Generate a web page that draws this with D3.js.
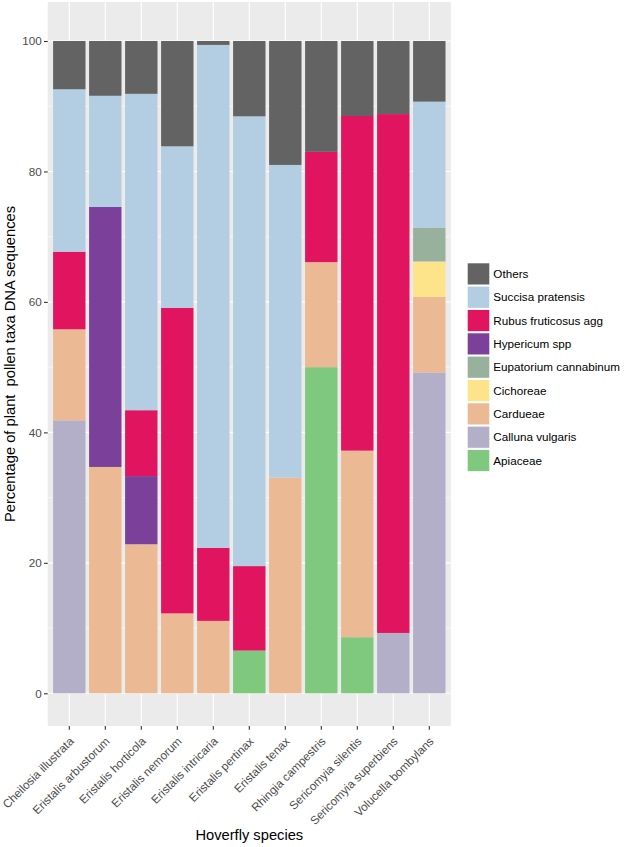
<!DOCTYPE html>
<html>
<head>
<meta charset="utf-8">
<script src="https://cdn.jsdelivr.net/npm/d3@7"></script>
<style>
  body { margin: 0; background: #fff; }
  svg { display: block; font-family: "Liberation Sans", Arial, sans-serif; }
</style>
</head>
<body>
<svg id="chart" width="625" height="847"></svg>
<script>
// ---------- data ----------
const species = ["Cheilosia illustrata", "Eristalis arbustorum", "Eristalis horticola", "Eristalis nemorum",
  "Eristalis intricaria", "Eristalis pertinax", "Eristalis tenax", "Rhingia campestris",
  "Sericomyia silentis", "Sericomyia superbiens", "Volucella bombylans"];
// stack order bottom -> top
const categories = ["Apiaceae", "Calluna vulgaris", "Cardueae", "Cichoreae", "Eupatorium cannabinum",
  "Hypericum spp", "Rubus fruticosus agg", "Succisa pratensis", "Others"];
const apiaceae   = [0, 0, 0, 0, 0, 6.55, 0, 50.0, 8.6, 0, 0];
const calluna    = [41.85, 0, 0, 0, 0, 0, 0, 0, 0, 9.25, 49.2];
const cardueae   = [13.95, 34.7, 22.85, 12.25, 11.1, 0, 33.05, 16.1, 28.6, 0, 11.55];
const cichoreae  = [0, 0, 0, 0, 0, 0, 0, 0, 0, 0, 5.45];
const eupatorium = [0, 0, 0, 0, 0, 0, 0, 0, 0, 0, 5.2];
const hypericum  = [0, 39.85, 10.45, 0, 0, 0, 0, 0, 0, 0, 0];
const rubus      = [11.9, 0, 10.1, 46.85, 11.2, 12.95, 0, 16.9, 51.3, 79.55, 0];
const succisa    = [24.9, 17.05, 48.5, 24.75, 77.1, 68.95, 47.95, 0, 0, 0, 19.3];
const others     = [7.4, 8.4, 8.1, 16.15, 0.6, 11.55, 19.0, 17.0, 11.5, 11.2, 9.3];
const seriesValues = [apiaceae, calluna, cardueae, cichoreae, eupatorium, hypericum, rubus, succisa, others];
const colors = ["#7FC97F", "#B3AFC9", "#ECB995", "#FDE38A", "#98B19C", "#7A409A", "#E1155F", "#B3CDE2", "#636363"];
const yTicks = [0, 20, 40, 60, 80, 100];
const yMinor = [10, 30, 50, 70, 90];

// ---------- layout ----------
const svg = d3.select("#chart");
const panel = { left: 47.7, right: 450.9, top: 2, bottom: 726 };

const x = d3.scaleBand().domain(species)
  .range([panel.left, panel.right]).paddingInner(0.1).paddingOuter(0.15);
const y = d3.scaleLinear().domain([0, 100]).range([693.3, 41]);
const color = d3.scaleOrdinal().domain(categories).range(colors);

const rows = species.map((s, i) => {
  const r = { species: s };
  categories.forEach((c, k) => r[c] = seriesValues[k][i]);
  return r;
});
const stacked = d3.stack().keys(categories)(rows);

// panel background
svg.append("rect").attr("x", panel.left).attr("y", panel.top)
  .attr("width", panel.right - panel.left).attr("height", panel.bottom - panel.top)
  .attr("fill", "#EBEBEB");

// grid
const g = svg.append("g");
g.selectAll(".ymin").data(yMinor).join("line")
  .attr("x1", panel.left).attr("x2", panel.right)
  .attr("y1", d => y(d)).attr("y2", d => y(d))
  .attr("stroke", "#fff").attr("stroke-width", 0.55);
g.selectAll(".ymaj").data(yTicks).join("line")
  .attr("x1", panel.left).attr("x2", panel.right)
  .attr("y1", d => y(d)).attr("y2", d => y(d))
  .attr("stroke", "#fff").attr("stroke-width", 1.1);
g.selectAll(".xmaj").data(species).join("line")
  .attr("x1", d => x(d) + x.bandwidth() / 2).attr("x2", d => x(d) + x.bandwidth() / 2)
  .attr("y1", panel.top).attr("y2", panel.bottom)
  .attr("stroke", "#fff").attr("stroke-width", 1.1);

// bars
svg.append("g").selectAll("g").data(stacked).join("g")
  .attr("fill", d => color(d.key))
  .selectAll("rect").data(d => d.filter(p => p[1] - p[0] > 0)).join("rect")
  .attr("x", d => x(d.data.species))
  .attr("width", x.bandwidth())
  .attr("y", d => y(d[1]))
  .attr("height", d => y(d[0]) - y(d[1]));

// y axis
const yAxis = svg.append("g").attr("transform", `translate(${panel.left},0)`)
  .call(d3.axisLeft(y).tickValues(yTicks).tickSize(3.7).tickPadding(2.2));
yAxis.select(".domain").remove();
yAxis.selectAll(".tick line").attr("stroke", "#333").attr("stroke-width", 1.1);
yAxis.selectAll(".tick text").attr("fill", "#4D4D4D")
  .style("font-size", "11.7px").style("font-family", "'Liberation Sans', Arial, sans-serif");

// x axis
const xAxis = svg.append("g").attr("transform", `translate(0,${panel.bottom})`)
  .call(d3.axisBottom(x).tickSize(3.7).tickPadding(2));
xAxis.select(".domain").remove();
xAxis.selectAll(".tick line").attr("stroke", "#333").attr("stroke-width", 1.1);
xAxis.selectAll(".tick text")
  .attr("fill", "#4D4D4D")
  .style("font-size", "11.7px").style("font-family", "'Liberation Sans', Arial, sans-serif")
  .attr("text-anchor", "end")
  .attr("dy", null)
  .attr("y", null)
  .attr("transform", "translate(5.2,16) rotate(-45)");

// axis titles
svg.append("text")
  .attr("x", (panel.left + panel.right) / 2).attr("y", 840)
  .attr("text-anchor", "middle").attr("fill", "#000")
  .style("font-size", "14.7px")
  .text("Hoverfly species");
svg.append("text")
  .attr("transform", `translate(15,${(panel.top + panel.bottom) / 2}) rotate(-90)`)
  .attr("text-anchor", "middle").attr("fill", "#000")
  .style("font-size", "14.7px").style("white-space", "pre")
  .text("Percentage of plant  pollen taxa DNA sequences");

// legend (reverse order: Others on top)
const legendCats = categories.slice().reverse();
const leg = svg.append("g").attr("transform", "translate(467.7,263.3)");
const item = leg.selectAll("g").data(legendCats).join("g")
  .attr("transform", (d, i) => `translate(0,${i * 23.33})`);
item.append("rect").attr("width", 21.6).attr("height", 21.2)
  .attr("fill", d => color(d));
item.append("text").attr("x", 25.6).attr("y", 10.6).attr("dy", "0.36em")
  .attr("fill", "#000").style("font-size", "11.7px")
  .text(d => d);
</script>
</body>
</html>
